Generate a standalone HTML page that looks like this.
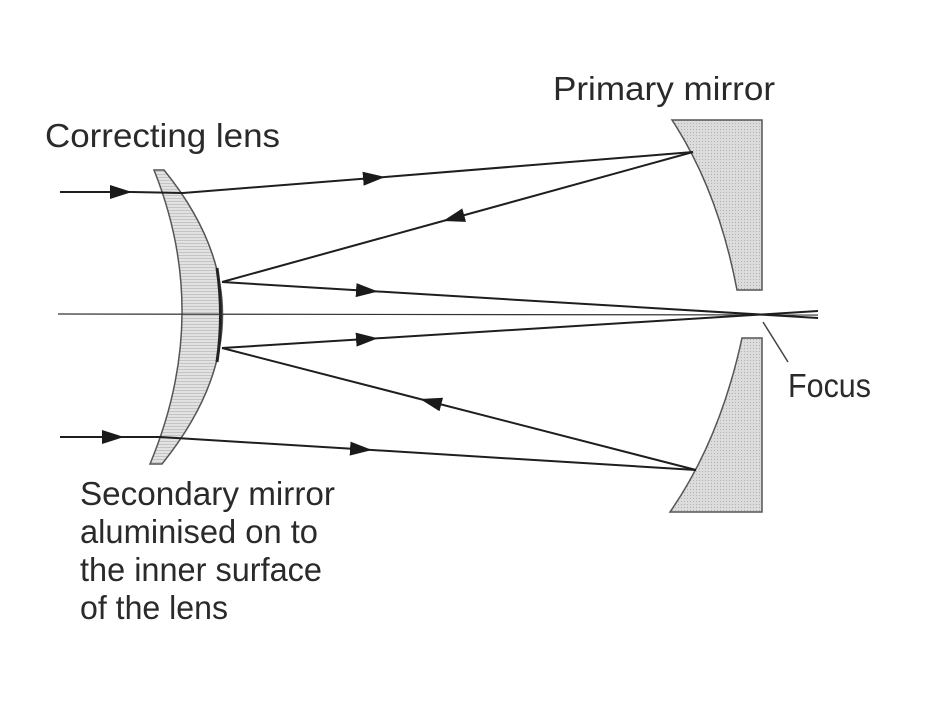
<!DOCTYPE html>
<html><head><meta charset="utf-8"><style>
html,body{margin:0;padding:0;background:#fff;}
svg{display:block;}
text{font-family:"Liberation Sans",sans-serif;font-size:33px;fill:#2a2a2a;}
</style></head><body>
<svg width="930" height="711" viewBox="0 0 930 711" xmlns="http://www.w3.org/2000/svg">
<defs>
<marker id="a" markerWidth="22" markerHeight="14" refX="22" refY="7" orient="auto" markerUnits="userSpaceOnUse">
<path d="M0,0 L22,7 L0,14 Z" fill="#1a1a1a"/>
</marker>
<pattern id="h" width="4" height="3" patternUnits="userSpaceOnUse">
<rect width="4" height="3" fill="#e2e2e2"/><rect width="4" height="1" fill="#c4c4c4"/>
</pattern>
<pattern id="d" width="3" height="3" patternUnits="userSpaceOnUse">
<rect width="3" height="3" fill="#dcdcdc"/><rect width="1" height="1" fill="#b0b0b0"/>
</pattern>
</defs>
<!-- lens -->
<path d="M154,170 L164,170 Q282,315 162,464 L150,464 Q212,315 154,170 Z" fill="url(#h)" stroke="#555" stroke-width="1.5"/>
<path d="M217,268 Q224,315 217,362" fill="none" stroke="#222" stroke-width="3"/>
<!-- primary mirror -->
<path d="M672,120 L762,120 L762,290 L737,290 Q718,190 672,120 Z" fill="url(#d)" stroke="#555" stroke-width="1.5"/>
<path d="M742,338 L762,338 L762,512 L670,512 Q720,440 742,338 Z" fill="url(#d)" stroke="#555" stroke-width="1.5"/>
<!-- axis -->
<line x1="58" y1="314" x2="818" y2="315" stroke="#333" stroke-width="1.2"/>
<g stroke="#1e1e1e" stroke-width="2" fill="none">
<line x1="60" y1="192" x2="132" y2="192" marker-end="url(#a)"/>
<line x1="132" y1="192" x2="183" y2="193"/>
<line x1="183" y1="193" x2="385" y2="177" marker-end="url(#a)"/>
<line x1="385" y1="177" x2="693" y2="152"/>
<line x1="693" y1="152" x2="443" y2="221" marker-end="url(#a)"/>
<line x1="443" y1="221" x2="222" y2="282"/>
<line x1="222" y1="282" x2="378" y2="291.5" marker-end="url(#a)"/>
<line x1="378" y1="291.5" x2="818" y2="318"/>
<line x1="222" y1="348" x2="378" y2="338.3" marker-end="url(#a)"/>
<line x1="378" y1="338.3" x2="818" y2="311"/>
<line x1="696" y1="470" x2="420" y2="399" marker-end="url(#a)"/>
<line x1="420" y1="399" x2="222" y2="348"/>
<line x1="60" y1="437" x2="124" y2="437" marker-end="url(#a)"/>
<line x1="124" y1="437" x2="160" y2="437"/>
<line x1="160" y1="437" x2="372" y2="450" marker-end="url(#a)"/>
<line x1="372" y1="450" x2="696" y2="470"/>
</g>
<line x1="763" y1="322" x2="788" y2="362" stroke="#444" stroke-width="1.5"/>
<text x="553" y="100" textLength="222" lengthAdjust="spacingAndGlyphs">Primary mirror</text>
<text x="45" y="147" textLength="235" lengthAdjust="spacingAndGlyphs">Correcting lens</text>
<text x="788" y="397" textLength="83" lengthAdjust="spacingAndGlyphs">Focus</text>
<text x="80" y="505" textLength="255" lengthAdjust="spacingAndGlyphs">Secondary mirror</text>
<text x="80" y="543" textLength="238" lengthAdjust="spacingAndGlyphs">aluminised on to</text>
<text x="80" y="581" textLength="242" lengthAdjust="spacingAndGlyphs">the inner surface</text>
<text x="80" y="619" textLength="148" lengthAdjust="spacingAndGlyphs">of the lens</text>
</svg>
</body></html>
